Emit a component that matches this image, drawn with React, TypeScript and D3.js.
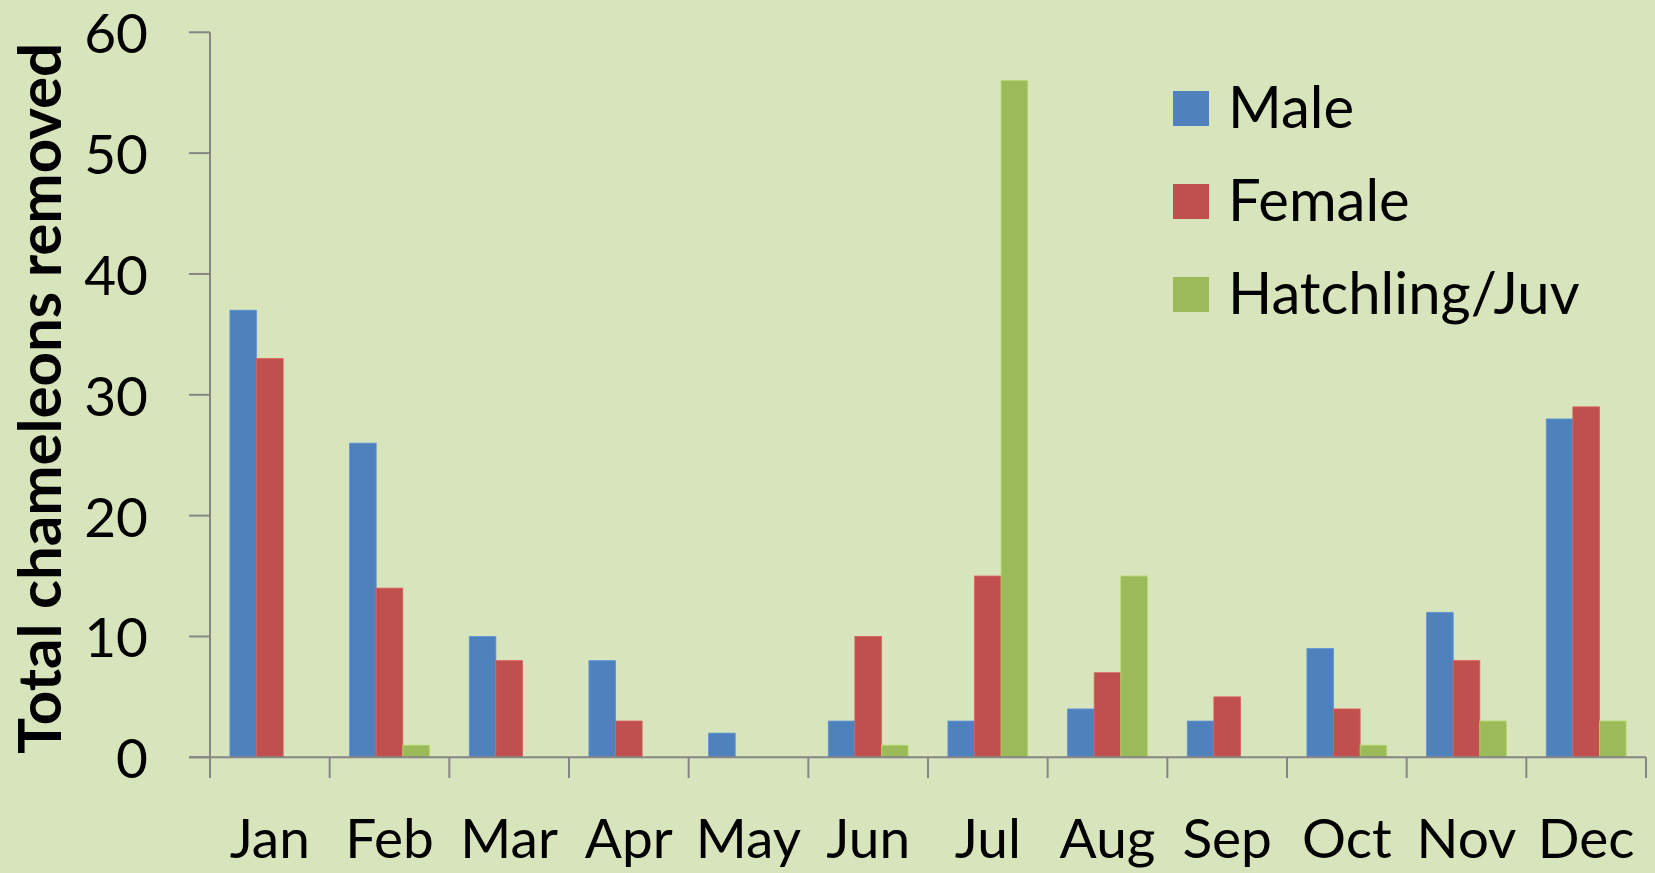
import React from "react";
import * as d3 from "d3";

const months = ["Jan", "Feb", "Mar", "Apr", "May", "Jun", "Jul", "Aug", "Sep", "Oct", "Nov", "Dec"];
const seriesNames = ["Male", "Female", "Hatchling/Juv"];
const male = [37, 26, 10, 8, 2, 3, 3, 4, 3, 9, 12, 28];
const female = [33, 14, 8, 3, 0, 10, 15, 7, 5, 4, 8, 29];
const hatchling = [0, 1, 0, 0, 0, 1, 56, 15, 0, 1, 3, 3];
const yTicks = [0, 10, 20, 30, 40, 50, 60];
const colors = ["#4F81BD", "#C0504D", "#9BBB59"];

const W = 1655;
const H = 873;
const FONT = "Lato, 'Open Sans', sans-serif";

export default function App() {
  const series = [male, female, hatchling];
  const x0 = 210;
  const x1 = 1646;
  const yTop = 32.3;
  const yZero = 757.3;

  const x = d3.scaleBand<string>().domain(months).range([x0, x1]).paddingInner(0).paddingOuter(0);
  const inner = d3
    .scaleBand<string>()
    .domain(seriesNames)
    .range([0, x.bandwidth()])
    .paddingOuter(0.75)
    .paddingInner(0);
  const y = d3.scaleLinear().domain([0, 60]).range([yZero, yTop]);

  const axisColor = "#868686";

  return (
    <div>
      <style>{`body{margin:0;}`}</style>
      <svg width={W} height={H} style={{ display: "block", background: "#D8E4BC" }} fontFamily={FONT}>
        <rect x={0} y={0} width={W} height={H} fill="#D8E4BC" />
        {/* bars */}
        {months.map((m, i) => (
          <g key={m}>
            {series.map((s, j) =>
              s[i] > 0 ? (
                <rect
                  key={j}
                  x={(x(m) as number) + (inner(seriesNames[j]) as number)}
                  y={y(s[i])}
                  width={inner.bandwidth()}
                  height={yZero - y(s[i])}
                  fill={colors[j]}
                  stroke={d3.color(colors[j])!.brighter(0.4).formatHex()}
                  strokeWidth={0.8}
                />
              ) : null
            )}
          </g>
        ))}
        {/* y axis */}
        <line x1={x0} x2={x0} y1={yTop} y2={yZero} stroke={axisColor} strokeWidth={2} />
        {yTicks.map((t) => (
          <g key={t}>
            <line x1={x0 - 21} x2={x0} y1={y(t)} y2={y(t)} stroke={axisColor} strokeWidth={2} />
            <text x={148} y={y(t)} textAnchor="end" dominantBaseline="central" fontSize={55} fill="#000">
              {t}
            </text>
          </g>
        ))}
        {/* x axis */}
        <line x1={x0 - 21} x2={x1} y1={yZero} y2={yZero} stroke={axisColor} strokeWidth={2} />
        {d3.range(months.length + 1).map((k) => {
          const xx = x0 + k * x.step();
          return <line key={k} x1={xx} x2={xx} y1={yZero} y2={778} stroke={axisColor} strokeWidth={2} />;
        })}
        {months.map((m) => (
          <text key={m} x={(x(m) as number) + x.bandwidth() / 2} y={858} textAnchor="middle" fontSize={55} fill="#000">
            {m}
          </text>
        ))}
        {/* y title */}
        <text
          transform={`translate(61, ${(43 + 754) / 2}) rotate(-90)`}
          textAnchor="middle"
          fontSize={59}
          fontWeight="bold"
          fill="#000"
          textLength={711}
          lengthAdjust="spacingAndGlyphs"
        >
          Total chameleons removed
        </text>
        {/* legend */}
        {seriesNames.map((n, j) => (
          <g key={n} transform={`translate(1173, ${91 + j * 93})`}>
            <rect x={0} y={0} width={36} height={35} fill={colors[j]} />
            <text x={55} y={37} fontSize={58} fill="#000">
              {n}
            </text>
          </g>
        ))}
      </svg>
    </div>
  );
}
